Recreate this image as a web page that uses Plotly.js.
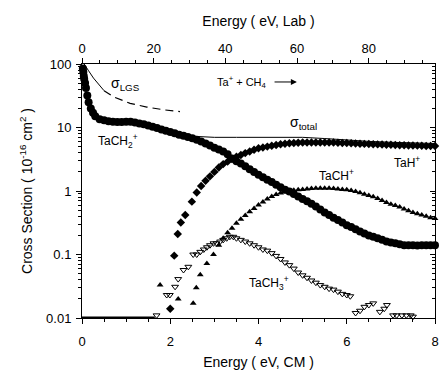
<!DOCTYPE html>
<html>
<head>
<meta charset="utf-8">
<script src="https://cdn.plot.ly/plotly-3.0.1.min.js"></script>
<style>html,body{margin:0;padding:0;background:#fff;}#chart{width:440px;height:370px;}</style>
</head>
<body>
<div id="chart"></div>
<script>
// ---- data ----
const tach2X = [0.02,0.03,0.04,0.05,0.07,0.09,0.12,0.15,0.2,0.25,0.3,0.4,0.5,0.6,0.7,0.8,0.9,1.0,1.1,1.2,1.3,1.4,1.5,1.6,1.7,1.8,1.9,2.0,2.1,2.2,2.3,2.4,2.5,2.6,2.7,2.8,2.9,3.0,3.1,3.2,3.3,3.4,3.5,3.6,3.7,3.8,3.9,4.0,4.1,4.2,4.3,4.4,4.5,4.6,4.7,4.8,4.9,5.0,5.1,5.2,5.3,5.4,5.5,5.6,5.7,5.8,5.9,6.0,6.1,6.2,6.3,6.4,6.5,6.6,6.7,6.8,6.9,7.0,7.1,7.2,7.3,7.4,7.5,7.6,7.7,7.8,7.9,8.0];
const tach2Y = [85,75,65,58,50,42,32,25,20,17,15,13.5,13,12.5,12.3,12.2,12.2,12.3,12.3,12.0,11.6,11.2,10.8,10.3,9.8,9.3,8.9,8.5,8.1,7.7,7.4,7.1,6.8,6.4,6.0,5.6,5.2,4.8,4.5,4.2,3.8,3.25,2.95,2.7,2.45,2.2,2.0,1.8,1.65,1.5,1.38,1.26,1.15,1.05,0.98,0.9,0.82,0.75,0.69,0.63,0.57,0.51,0.46,0.42,0.38,0.35,0.32,0.29,0.27,0.25,0.23,0.215,0.2,0.19,0.18,0.17,0.16,0.155,0.15,0.145,0.14,0.14,0.14,0.138,0.14,0.14,0.14,0.14];

const tahX = [2.0,2.09,2.17,2.24,2.34,2.49,2.6,2.7,2.8,2.9,3.0,3.1,3.2,3.3,3.4,3.5,3.6,3.7,3.8,3.9,4.0,4.1,4.2,4.3,4.4,4.5,4.6,4.7,4.8,4.9,5.0,5.1,5.2,5.3,5.4,5.5,5.6,5.7,5.8,5.9,6.0,6.1,6.2,6.3,6.4,6.5,6.6,6.7,6.8,6.9,7.0,7.1,7.2,7.3,7.4,7.5,7.6,7.7,7.8,7.9,8.0];
const tahY = [0.014,0.096,0.21,0.32,0.42,0.68,0.95,1.2,1.45,1.7,2.0,2.35,2.65,2.9,3.2,3.45,3.7,3.95,4.2,4.45,4.7,4.85,5.0,5.15,5.3,5.45,5.55,5.65,5.7,5.75,5.8,5.8,5.8,5.8,5.8,5.8,5.8,5.8,5.75,5.72,5.7,5.65,5.6,5.56,5.52,5.5,5.45,5.42,5.38,5.36,5.35,5.3,5.27,5.24,5.22,5.2,5.18,5.15,5.13,5.11,5.1];

const tachX = [1.77,2.18,2.52,2.59,2.68,2.83,2.98,3.1,3.2,3.3,3.4,3.5,3.6,3.7,3.8,3.9,4.0,4.1,4.2,4.3,4.4,4.5,4.6,4.7,4.8,4.9,5.0,5.1,5.2,5.3,5.4,5.5,5.6,5.7,5.8,5.9,6.0,6.1,6.2,6.3,6.4,6.5,6.6,6.7,6.8,6.9,7.0,7.1,7.2,7.3,7.4,7.5,7.6,7.7,7.8,7.9,8.0];
const tachY = [0.033,0.020,0.017,0.030,0.048,0.072,0.10,0.14,0.18,0.22,0.26,0.31,0.36,0.41,0.47,0.53,0.6,0.67,0.75,0.82,0.88,0.93,0.97,1.0,1.03,1.05,1.06,1.08,1.09,1.1,1.1,1.1,1.1,1.09,1.08,1.06,1.05,1.02,0.98,0.94,0.89,0.85,0.81,0.76,0.71,0.66,0.62,0.59,0.56,0.52,0.49,0.46,0.44,0.42,0.40,0.38,0.37];

const tach3X = [1.69,1.92,1.99,2.11,2.18,2.3,2.41,2.52,2.6,2.68,2.76,2.83,2.9,2.98,3.05,3.13,3.2,3.28,3.35,3.43,3.5,3.6,3.7,3.8,3.9,4.0,4.1,4.2,4.3,4.4,4.5,4.6,4.7,4.8,4.9,5.0,5.1,5.2,5.3,5.4,5.5,5.6,5.7,5.8,5.9,6.0,6.08,6.2,6.3,6.4,6.5,6.6,6.75,6.85,6.91,7.05,7.13,7.25,7.35,7.45,7.5];
const tach3Y = [0.011,0.023,0.023,0.031,0.041,0.057,0.064,0.10,0.10,0.11,0.12,0.13,0.14,0.15,0.15,0.16,0.17,0.18,0.19,0.19,0.18,0.17,0.16,0.15,0.14,0.13,0.12,0.115,0.105,0.095,0.085,0.075,0.068,0.06,0.052,0.047,0.043,0.039,0.036,0.033,0.031,0.029,0.028,0.026,0.024,0.023,0.022,0.012,0.013,0.015,0.016,0.017,0.0125,0.014,0.016,0.011,0.011,0.011,0.011,0.011,0.0105];

const totalX = [2.3,2.7,3.0,3.5,4.0,4.5,5.0,5.5,6.0,6.5,7.0,7.5,8.0];
const totalY = [7.4,7.1,7.0,7.0,7.05,7.1,7.0,6.7,6.3,6.05,5.85,5.7,5.6];

const lgsSolidX = [0.05,0.07,0.15,0.26,0.4,0.5];
const lgsSolidY = [100,96,78,60,45,38];
const lgsDashX = [0.5,0.71,1.09,1.47,1.85,2.22];
const lgsDashY = [38,30.5,24,21,19,17.8];

const floorX = [0,1.65];
const floorY = [0.01,0.01];

const xTicks = [0,2,4,6,8];
const labTicks = [0,20,40,60,80];
const yTicks = [0.01,0.1,1,10,100];
const yTickText = ['0.01','0.1','1','10','100'];
const yMinor = [];
[0.01,0.1,1,10].forEach(d => { for (let k = 2; k <= 9; k++) yMinor.push(+(d*k).toPrecision(3)); });

// ---- traces ----
const traces = [
  {x: floorX, y: floorY, mode: 'lines', line: {color: '#000', width: 3}, hoverinfo: 'skip'},
  {x: totalX, y: totalY, mode: 'lines', line: {color: '#000', width: 1}},
  {x: lgsSolidX, y: lgsSolidY, mode: 'lines', line: {color: '#000', width: 1}},
  {x: lgsDashX, y: lgsDashY, mode: 'lines', line: {color: '#000', width: 1.2, dash: '8px,5px'}},
  {x: tach3X, y: tach3Y, mode: 'markers', cliponaxis: false,
   marker: {symbol: 'triangle-down-open', size: 6, color: '#000', line: {width: 1}}},
  {x: tachX, y: tachY, mode: 'markers', cliponaxis: false,
   marker: {symbol: 'triangle-up', size: 6, color: '#000'}},
  {x: tahX, y: tahY, mode: 'markers', cliponaxis: false,
   marker: {symbol: 'diamond', size: 6.5, color: '#000'}},
  {x: tach2X, y: tach2Y, mode: 'markers', cliponaxis: false,
   marker: {symbol: 'circle', size: 8, color: '#000'}}
];

const font = {family: 'Liberation Sans, Arial, sans-serif', color: '#000'};
const lab = (x, y, t, sz) => ({x, y, xref: 'x', yref: 'y', text: t, showarrow: false,
  font: Object.assign({}, font, {size: sz || 12})});

const layout = {
  width: 440, height: 370,
  margin: {l: 82, r: 5, t: 64, b: 52},
  paper_bgcolor: '#fff', plot_bgcolor: '#fff',
  showlegend: false,
  font: Object.assign({}, font, {size: 13}),
  xaxis: {
    range: [0, 8], tickvals: xTicks, ticks: 'outside', ticklen: 5, tickwidth: 1, tickcolor: '#000',
    minor: {dtick: 0.5, ticks: 'outside', ticklen: 3, tickcolor: '#000'},
    showline: true, linecolor: '#000', linewidth: 1, showgrid: false, zeroline: false,
    tickfont: {size: 13}, ticklabelstandoff: 6,
    title: {text: 'Energy ( eV, CM )', font: {size: 14}, standoff: 9}
  },
  xaxis2: {
    overlaying: 'x', side: 'top', anchor: 'y',
    range: [0, 98.5], tickvals: labTicks, ticks: 'outside', ticklen: 5, tickcolor: '#000',
    minor: {dtick: 5, ticks: 'outside', ticklen: 3, tickcolor: '#000'},
    showline: true, linecolor: '#000', linewidth: 1, showgrid: false, zeroline: false,
    tickfont: {size: 13},
    title: {text: 'Energy ( eV, Lab )', font: {size: 14}, standoff: 10}
  },
  yaxis: {
    type: 'log', range: [-2, 2], tickmode: 'array', tickvals: yTicks, ticktext: yTickText,
    ticks: 'outside', ticklen: 5, tickcolor: '#000',
    minor: {tickmode: 'array', tickvals: yMinor, ticks: 'outside', ticklen: 3, tickcolor: '#000'},
    showline: true, linecolor: '#000', linewidth: 1, showgrid: false, zeroline: false,
    tickfont: {size: 13}, ticklabelstandoff: 2,
    title: {text: 'Cross Section ( 10<sup>-16</sup> cm<sup>2</sup> )', font: {size: 14}, standoff: 10}
  },
  yaxis2: {
    type: 'log', range: [-2, 2], overlaying: 'y', side: 'right', anchor: 'x',
    tickmode: 'array', tickvals: yTicks, showticklabels: false,
    ticks: 'inside', ticklen: 5, tickcolor: '#000',
    minor: {tickmode: 'array', tickvals: yMinor, ticks: 'inside', ticklen: 3, tickcolor: '#000'},
    showline: true, linecolor: '#000', linewidth: 1, showgrid: false, zeroline: false
  },
  annotations: [
    lab(0.98, 1.685, 'σ<sub>LGS</sub>', 14),
    lab(3.63, 1.717, 'Ta<sup>+</sup> + CH<sub>4</sub>', 11),
    {x: 4.87, y: 1.717, ax: 4.33, ay: 1.717, xref: 'x', yref: 'y', axref: 'x', ayref: 'y',
     text: '', showarrow: true, arrowhead: 2, arrowsize: 1.2, arrowwidth: 1, arrowcolor: '#000'},
    lab(5.01, 1.071, 'σ<sub>total</sub>', 14),
    lab(0.82, 0.787, 'TaCH<sub>2</sub><sup>+</sup>', 12),
    lab(7.37, 0.457, 'TaH<sup>+</sup>', 12),
    lab(5.76, 0.252, 'TaCH<sup>+</sup>', 12),
    lab(4.24, -1.449, 'TaCH<sub>3</sub><sup>+</sup>', 12)
  ]
};

// invisible anchors so the Lab axis and the right axis are laid out
traces.push({x: [labTicks[0]], y: [yTicks[2]], xaxis: 'x2', yaxis: 'y', mode: 'markers',
  marker: {opacity: 0}, hoverinfo: 'skip'});
traces.push({x: [xTicks[0]], y: [yTicks[2]], xaxis: 'x', yaxis: 'y2', mode: 'markers',
  marker: {opacity: 0}, hoverinfo: 'skip'});

Plotly.newPlot('chart', traces, layout, {staticPlot: true, displayModeBar: false});
</script>
</body>
</html>
